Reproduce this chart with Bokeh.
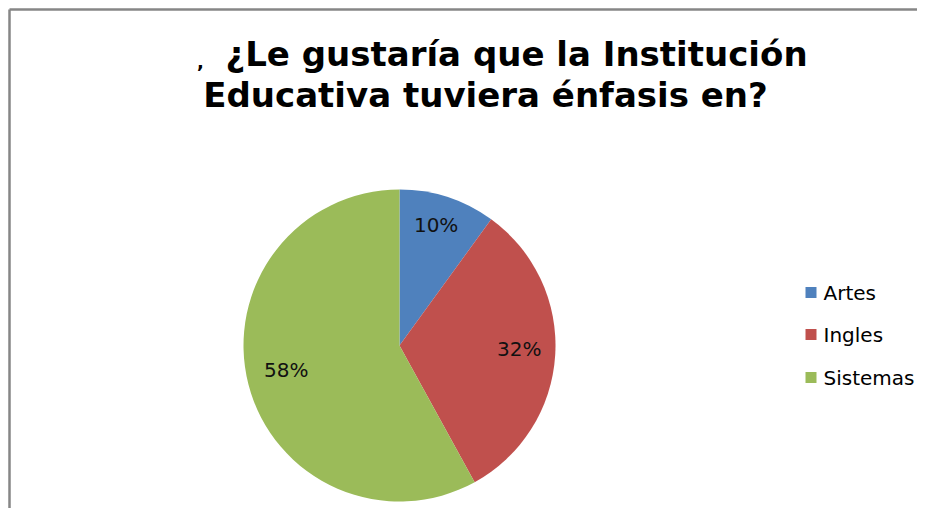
import numpy as np
from bokeh.plotting import figure
from bokeh.models import Range1d, ColumnDataSource
from bokeh.core.properties import value
from bokeh.embed import file_html
from bokeh.resources import INLINE

# ---- data ----
categories = ["Artes", "Ingles", "Sistemas"]
percents = [10, 32, 58]
labels = ["10%", "32%", "58%"]
colors = ["#4F81BD", "#C0504D", "#9BBB59"]
title_lines = ["¿Le gustaría que la Institución", "Educativa tuviera énfasis en?"]

W, H = 917, 508
p = figure(width=W, height=H, output_backend="svg", toolbar_location=None,
           x_range=Range1d(0, W), y_range=Range1d(0, H), min_border=0)
p.axis.visible = False
p.grid.visible = False
p.outline_line_color = None
p.background_fill_color = "white"
p.border_fill_color = "white"

# picture coords -> data coords
def X(px):
    return px
def Y(py):
    return H - py

# frame border (left + top visible)
p.segment(x0=[X(9), X(9)], y0=[Y(9), Y(9)], x1=[X(9), W + 5], y1=[-5, Y(9)],
          line_color="#868686", line_width=2.5)

# pie
cx, cy, R = X(399), Y(345), 156
frac = np.array(percents, dtype=float) / sum(percents)
cum = np.concatenate([[0], np.cumsum(frac)])
start = np.pi / 2 - cum[:-1] * 2 * np.pi
end = np.pi / 2 - cum[1:] * 2 * np.pi
src = ColumnDataSource(dict(start=start, end=end, color=colors, cat=categories))
p.wedge(x=cx, y=cy, radius=R, start_angle="start", end_angle="end",
        direction="clock", fill_color="color", line_color=None, source=src)

mid = (start + end) / 2
lr = [125, 120, 117]
lx = cx + np.array(lr) * np.cos(mid) - np.array([2, 0, 0])
ly = cy + np.array(lr) * np.sin(mid) + np.array([2, 4, 5])
p.text(x=lx, y=ly, text=labels, text_align="center", text_baseline="middle",
       text_font=value("DejaVu Sans"), text_font_size="20px", text_color="#111111")

# title
p.text(x=[X(516), X(485)], y=[Y(53), Y(94)], text=title_lines,
       text_align="center", text_baseline="alphabetic",
       text_font=value("DejaVu Sans"), text_font_style="bold", text_font_size="34px",
       text_color="black")
p.text(x=[X(200)], y=[Y(61)], text=[","], text_align="center",
       text_baseline="alphabetic", text_font=value("DejaVu Sans"),
       text_font_style="bold", text_font_size="18px", text_color="black")

# legend
ly_leg = [Y(292), Y(334), Y(377)]
p.rect(x=[X(810.5)] * 3, y=ly_leg, width=11, height=11, fill_color=colors,
       line_color=None)
p.text(x=[X(823)] * 3, y=ly_leg, text=categories, text_align="left",
       text_baseline="middle", text_font=value("DejaVu Sans"), text_font_size="20px",
       text_color="black")

open("out.html", "w").write(file_html(p, INLINE))
